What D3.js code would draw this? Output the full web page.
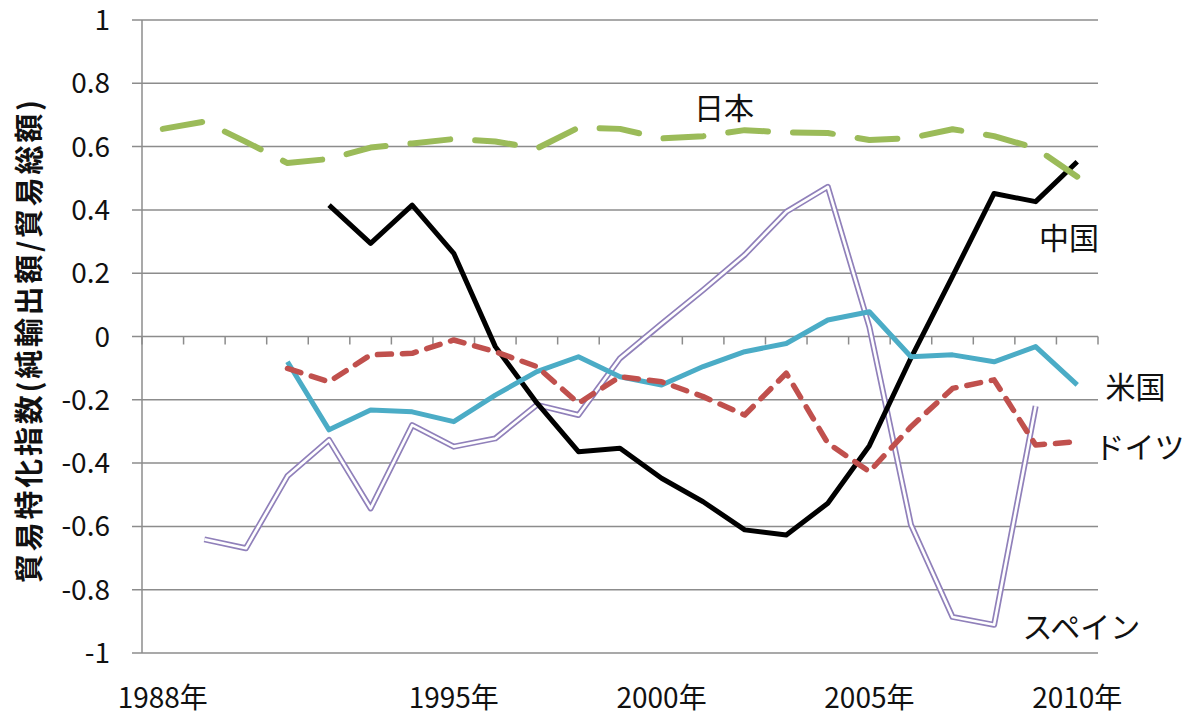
<!DOCTYPE html>
<html><head><meta charset="utf-8">
<script src="https://cdn.jsdelivr.net/npm/d3@7"></script>
<style>
body{margin:0;background:#fff}
text{font-family:"Noto Sans CJK JP","Noto Sans",sans-serif;fill:#111}
</style>
</head><body>
<svg id="c" width="1187" height="717"></svg>
<script>
// ---- data (1988–2010) ----
const years = [1988,1989,1990,1991,1992,1993,1994,1995,1996,1997,1998,1999,2000,2001,2002,2003,2004,2005,2006,2007,2008,2009,2010];
const japan   = [0.656,0.679,0.615,0.548,0.561,0.597,0.610,0.624,0.616,0.594,0.660,0.656,0.626,0.633,0.652,0.645,0.643,0.621,0.627,0.655,0.633,0.595,0.505];
const china   = [null,null,null,null,0.415,0.294,0.415,0.263,-0.032,-0.210,-0.364,-0.353,-0.448,-0.522,-0.611,-0.627,-0.527,-0.345,-0.068,0.190,0.452,0.426,0.552];
const usa     = [null,null,null,-0.080,-0.295,-0.232,-0.238,-0.269,-0.185,-0.111,-0.064,-0.127,-0.153,-0.095,-0.048,-0.022,0.052,0.078,-0.064,-0.058,-0.080,-0.032,-0.153];
const germany = [null,null,null,-0.101,-0.143,-0.058,-0.053,-0.011,-0.048,-0.095,-0.211,-0.127,-0.143,-0.190,-0.248,-0.116,-0.337,-0.427,-0.285,-0.164,-0.137,-0.343,-0.332];
const spain   = [null,-0.641,-0.669,-0.441,-0.327,-0.543,-0.280,-0.348,-0.322,-0.216,-0.248,-0.069,0.040,0.147,0.258,0.394,0.473,0.030,-0.595,-0.886,-0.911,-0.220,null];
const yTicks = [-1,-0.8,-0.6,-0.4,-0.2,0,0.2,0.4,0.6,0.8,1];
const xLabelYears = [1988,1995,2000,2005,2010];
const xLabels = ["1988年","1995年","2000年","2005年","2010年"];
const yTitle = "貿易特化指数(純輸出額/貿易総額)";
// series name labels: text, year position, value position
const seriesNames = ["日本","中国","米国","ドイツ","スペイン"];
const labelYear  = [2001.5, 2009.8, 2011.4, 2011.5, 2010.1];
const labelValue = [0.72, 0.31, -0.16, -0.35, -0.92];

// ---- layout ----
const svg = d3.select("#c");
const L = 142, R = 1098, T = 20, B = 653;
const x = d3.scaleBand().domain(years).range([L, R]).paddingInner(0).paddingOuter(0);
const xc = yr => x(yr) + x.bandwidth()/2;
const xLin = d3.scaleLinear().domain([years[0], years[years.length-1]]).range([xc(years[0]), xc(years[years.length-1])]);
const y = d3.scaleLinear().domain([-1, 1]).range([B, T]);

// gridlines
svg.append("g").selectAll("line").data(yTicks).join("line")
  .attr("x1", L - 10).attr("x2", R)
  .attr("y1", d => y(d)).attr("y2", d => y(d))
  .attr("stroke", "#8c8c8c").attr("stroke-width", 1.5);
// y axis line
svg.append("line").attr("x1", L).attr("x2", L).attr("y1", T).attr("y2", B)
  .attr("stroke", "#8c8c8c").attr("stroke-width", 1.5);
// y tick labels
svg.append("g").selectAll("text").data(yTicks).join("text")
  .attr("x", 110).attr("y", d => y(d)).attr("dy", "0.36em")
  .attr("text-anchor", "end").attr("font-size", 28)
  .text(d => String(+d.toFixed(1)));
// x axis at 0 with tick marks at category boundaries
const bounds = years.map(d => x(d)).concat([R]);
svg.append("g").selectAll("line").data(bounds).join("line")
  .attr("x1", d => d).attr("x2", d => d)
  .attr("y1", y(0)).attr("y2", y(0) + 8)
  .attr("stroke", "#8c8c8c").attr("stroke-width", 1.5);
// x labels
svg.append("g").selectAll("text").data(xLabelYears).join("text")
  .attr("x", d => xc(d)).attr("y", 708)
  .attr("text-anchor", "middle").attr("font-size", 28)
  .text((d, i) => xLabels[i]);
// y title
svg.append("text")
  .attr("transform", `translate(40,${(100+583)/2}) rotate(-90)`)
  .attr("text-anchor", "middle").attr("font-size", 29).attr("font-weight", "bold")
  .attr("textLength", 483).attr("lengthAdjust", "spacing")
  .text(yTitle);

const line = d3.line().defined(d => d[1] !== null).x(d => xc(d[0])).y(d => y(d[1]));
const pts = arr => years.map((yr, i) => [yr, arr[i]]);

const g = svg.append("g").attr("fill", "none").attr("stroke-linejoin", "round");
// Spain (double line)
g.append("path").attr("d", line(pts(spain))).attr("stroke", "#9080ba").attr("stroke-width", 6);
g.append("path").attr("d", line(pts(spain))).attr("stroke", "#ffffff").attr("stroke-width", 2.6);
// China
g.append("path").attr("d", line(pts(china))).attr("stroke", "#000").attr("stroke-width", 5);
// USA
g.append("path").attr("d", line(pts(usa))).attr("stroke", "#4BACC6").attr("stroke-width", 5);
// Germany
g.append("path").attr("d", line(pts(germany))).attr("stroke", "#C0504D").attr("stroke-width", 5.5)
  .attr("stroke-dasharray", "14,11").attr("stroke-linecap", "round");
// Japan
g.append("path").attr("d", line(pts(japan))).attr("stroke", "#9BBB59").attr("stroke-width", 6)
  .attr("stroke-dasharray", "40,25").attr("stroke-linecap", "round");

// series labels
svg.append("g").selectAll("text").data(seriesNames).join("text")
  .attr("x", (d, i) => xLin(labelYear[i])).attr("y", (d, i) => y(labelValue[i])).attr("dy", "0.36em")
  .attr("text-anchor", "middle").attr("font-size", 30)
  .text(d => d);
</script>
</body></html>
